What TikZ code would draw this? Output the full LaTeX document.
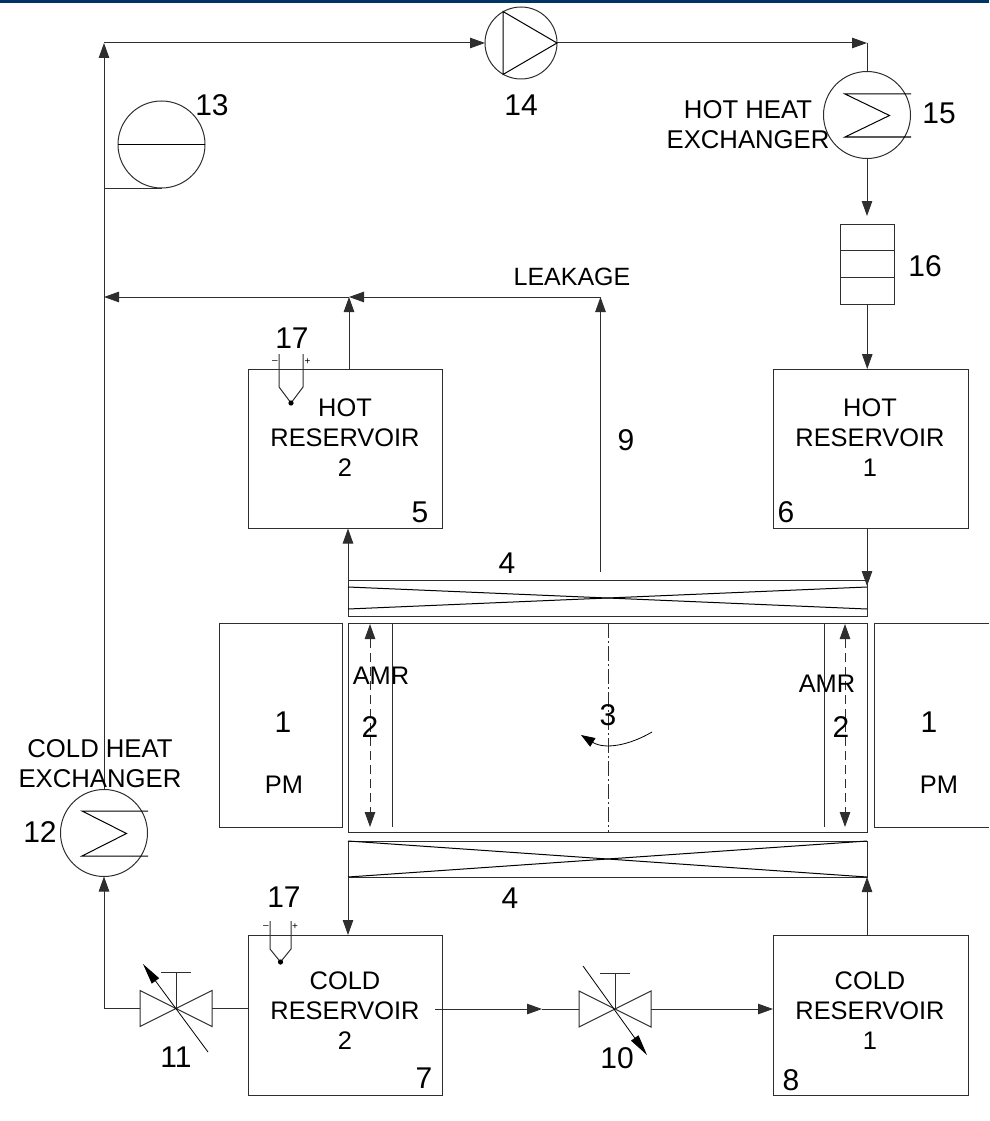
\documentclass[tikz,border=0pt]{standalone}
\usepackage{fontspec}
\setmainfont{Liberation Sans}
\usetikzlibrary{arrows.meta}
\definecolor{ink}{HTML}{2E2E2E}
\definecolor{barblue}{HTML}{003366}
\tikzset{
  x=1pt,y=-1pt,
  every node/.style={inner sep=0pt,outer sep=0pt},
  part/.style={draw=ink,line width=1pt,rectangle},
  disc/.style={draw=ink,line width=1pt,circle,minimum size=87pt},
  pumpdisc/.style={draw=ink,line width=1pt,circle,minimum size=72pt},
  valvebox/.style={rectangle,minimum width=72pt,minimum height=36pt},
  thin line/.style={draw=ink,line width=1pt},
  sym/.style={draw=black,line width=1pt},
  flow/.style={draw=ink,line width=1pt,-{Triangle[length=15pt,width=10.5pt]}},
  flowb/.style={draw=ink,line width=1pt,dashed,dash pattern=on 9pt off 5pt,{Triangle[length=15pt,width=10.5pt]}-{Triangle[length=15pt,width=10.5pt]}},
  wedge/.style={draw=black,line width=.8pt,-{Triangle[length=21pt,width=9pt]}},
  num/.style={font=\fontsize{30}{32}\selectfont},
  txt/.style={font=\fontsize{25.4}{30}\selectfont,align=center},
  hxtxt/.style={font=\fontsize{25.7}{30}\selectfont,align=center},
  small/.style={font=\fontsize{10}{10}\selectfont},
}
\begin{document}
\begin{tikzpicture}
\useasboundingbox (0,0) rectangle (989,1121);
\fill[barblue] (0,0) rectangle (989,3);

% components
\node[pumpdisc] (p14) at (521,43) {};
\node[disc] (hx15) at (867,115) {};
\node[disc] (hx12) at (104,833) {};
\node[disc] (rcv13) at (161.5,144.5) {};
\node[part,minimum width=54.5pt,minimum height=80pt] (f16) at (867.25,264) {};
\node[part,minimum width=194pt,minimum height=159.5pt] (hr2) at (345,448.75) {};
\node[part,minimum width=195pt,minimum height=159.5pt] (hr1) at (870.5,448.75) {};
\node[part,minimum width=194pt,minimum height=160pt] (cr2) at (345,1015) {};
\node[part,minimum width=195pt,minimum height=160pt] (cr1) at (870.5,1015) {};
\node[part,minimum width=519pt,minimum height=36pt] (reg) at (607.5,598) {};
\node[part,minimum width=519pt,minimum height=36pt] (rgb) at (607.5,859) {};
\node[part,minimum width=519pt,minimum height=209pt] (drum) at (607.5,727.5) {};
\node[part,minimum width=123pt,minimum height=204pt] (pml) at (280.5,725) {};
\node[valvebox] (v10) at (615,1009) {};
\node[valvebox] (v11) at (176,1008.5) {};

% junctions
\coordinate (nw) at (104,43);
\coordinate (ne) at (867,43);
\coordinate (jl) at (104,297);
\coordinate (jm) at (349,297);
\coordinate (leak) at (600.5,572);
\coordinate (leaktop) at (600.5,297);
\coordinate (j13) at (104,188);
\coordinate (sw) at (104,1008.5);
\coordinate (f16in) at (867,216);
\coordinate (crout) at (435,1009);
\coordinate (crmid) at (542,1009);
\coordinate (regin) at (867,586);

% right magnet, cut by the page edge
\draw[thin line] (989,623) -- (874,623) -- (874,827) -- (989,827);

% symbols inside components
\draw[sym] (p14.center)+(-18,-31.5) -- +(-18,31.5) -- +(36,0) -- cycle;
\draw[sym] (911,94) -- (845,94) -- (889.5,115.5) -- (845,137) -- (911,137);
\draw[sym] (148,811) -- (82,811) -- (126.5,833.5) -- (82,856) -- (148,856);
\draw[sym] (rcv13.west) -- (rcv13.east);
\draw[thin line] (840,250.5) -- (894.5,250.5);
\draw[thin line] (840,277.5) -- (894.5,277.5);
\draw[sym] (348,587) -- (867,609);
\draw[sym] (348,609) -- (867,587);
\draw[sym] (rgb.north west) -- (rgb.south east);
\draw[sym] (rgb.south west) -- (rgb.north east);
\draw[thin line] (392,623) -- (392,827);
\draw[thin line] (824,623) -- (824,827);
\draw[thin line,dash pattern=on 15pt off 3pt on 2pt off 3pt] (608,623) -- (608,832);
\draw[flowb] (370,624) -- (370,827);
\draw[flowb] (845,624) -- (845,827);
\draw[line width=.8pt,draw=black,-{Triangle[length=14pt,width=10pt]}] (652,732) .. controls (630,745) and (605,750) .. (581,735);

% valves
\foreach \v in {v10,v11}{
  \draw[thin line] (\v.north west) -- (\v.south east) -- (\v.north east) -- (\v.south west) -- cycle;
}
\draw[thin line] (v10.center) -- (615,973);
\draw[thin line] (600,973) -- (630,973);
\draw[thin line] (v11.center) -- (176,972);
\draw[thin line] (161,972) -- (191,972);
\draw[wedge] (583,966) -- (647,1055);
\draw[wedge] (208,1052) -- (143,964);

% thermocouples
\draw[thin line] (279,354) -- (279,387) -- (291,403) -- (303,387) -- (303,354);
\fill[black] (291,403) circle (2.6);
\draw[thin line] (270,921) -- (270,949) -- (280.5,962) -- (291,949) -- (291,921);
\fill[black] (280.5,962) circle (2.6);

% pipework
\draw[flow] (hx12.north) -- (nw);
\draw[flow] (nw) -- (p14.west);
\draw[flow] (p14.east) -- (ne);
\draw[thin line] (ne) -- (hx15.north);
\draw[flow] (hx15.south) -- (f16in);
\draw[flow] (f16.south) -- (f16.south |- hr1.north);
\draw[flow] (hr1.south -| ne) -- (regin);
\draw[flow] (reg.north west) -- (hr2.south -| reg.north west);
\draw[flow] (leak) -- (leaktop);
\draw[flow] (leaktop) -- (jm);
\draw[flow] (jm) -- (jl);
\draw[flow] (hr2.north -| jm) -- (jm);
\draw[thin line] (j13) -- (rcv13.south);
\draw[flow] (rgb.south west) -- (cr2.north -| rgb.south west);
\draw[flow] (cr1.north -| rgb.south east) -- (rgb.south east);
\draw[flow] (sw) -- (hx12.south);
\draw[thin line] (v11.west) -- (sw);
\draw[thin line] (v11.east) -- (v11.east -| cr2.west);
\draw[flow] (crout) -- (crmid);
\draw[thin line] (crmid) -- (v10.west);
\draw[flow] (v10.east) -- (v10.east -| cr1.west);

% labels
\node[num] (n13) at (212,105) {13};
\node[num] (n14) at (521,105) {14};
\node[num] (n15) at (939,113) {15};
\node[num] (n16) at (925,266) {16};
\node[num] (n17a) at (292,338) {17};
\node[num] (n17b) at (284,897) {17};
\node[num] (n9) at (626,440) {9};
\node[num] (n4a) at (507,563) {4};
\node[num] (n4b) at (510,898) {4};
\node[num] (n5) at (420,512) {5};
\node[num] (n6) at (786,512) {6};
\node[num] (n7) at (424,1078) {7};
\node[num] (n8) at (791,1080) {8};
\node[num] (n10) at (617,1058) {10};
\node[num] (n11) at (176,1057) {11};
\node[num] (n12) at (40,832) {12};
\node[num] (n1a) at (283,722) {1};
\node[num] (n1b) at (929,722) {1};
\node[num] (n2a) at (370,727) {2};
\node[num] (n2b) at (841,727) {2};
\node[num] (n3) at (608,715) {3};
\node[txt] (amrl) at (381,676) {AMR};
\node[txt] (amrr) at (827,684) {AMR};
\node[txt] (pma) at (284,785) {PM};
\node[txt] (pmb) at (939,785) {PM};
\node[txt] (thr2) at (345,438) {HOT\\RESERVOIR\\2};
\node[txt] (thr1) at (870,438) {HOT\\RESERVOIR\\1};
\node[txt] (tcr2) at (345,1011) {COLD\\RESERVOIR\\2};
\node[txt] (tcr1) at (870,1011) {COLD\\RESERVOIR\\1};
\node[font=\fontsize{25}{26}\selectfont] (tleak) at (572,277) {LEAKAGE};
\node[hxtxt] (thot) at (748,125) {HOT HEAT\\EXCHANGER};
\node[hxtxt] (tcold) at (100,764) {COLD HEAT\\EXCHANGER};
\node[small] (m1) at (275,362) {–};
\node[small] (p1) at (307.5,362) {+};
\node[small] (m2) at (266,927) {–};
\node[small] (p2) at (295,927) {+};
\end{tikzpicture}
\end{document}
